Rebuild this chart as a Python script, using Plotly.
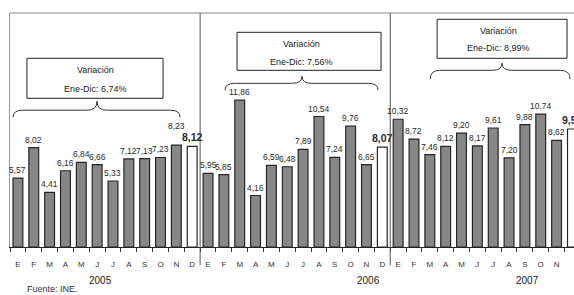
import plotly.graph_objects as go

# ---------------- data ----------------
months = ["E", "F", "M", "A", "M", "J", "J", "A", "S", "O", "N", "D"]
years = ["2005", "2006", "2007"]
values_2005 = [5.57, 8.02, 4.41, 6.16, 6.84, 6.66, 5.33, 7.12, 7.13, 7.23, 8.23, 8.12]
values_2006 = [5.95, 5.85, 11.86, 4.16, 6.59, 6.48, 7.89, 10.54, 7.24, 9.76, 6.65, 8.07]
values_2007 = [10.32, 8.72, 7.46, 8.12, 9.20, 8.17, 9.61, 7.20, 9.88, 10.74, 8.62, 9.53]
variation_labels = ["Ene-Dic: 6,74%", "Ene-Dic: 7,56%", "Ene-Dic: 8,99%"]
box_title = "Variación"
source_text = "Fuente: INE."

# ---------------- build ----------------
all_values = values_2005 + values_2006 + values_2007
n = len(all_values)
xs = list(range(n))
ticktext = months * 3

GRAY = "#878787"
FONT = "Liberation Sans, Arial, sans-serif"
XMIN, XMAX = -0.5, 35.1
YMAX = 18.9

colors = ["white" if i % 12 == 11 else GRAY for i in range(n)]

fig = go.Figure()
fig.add_trace(go.Bar(
    x=xs, y=all_values,
    marker=dict(color=colors, line=dict(color="#262626", width=1.2)),
    width=0.62, cliponaxis=False,
    hoverinfo="skip",
))

shapes = []
annotations = []

# value labels (style: extra lift for label crowded next to the December one)
label_lift = {10: 12}
for i, v in enumerate(all_values):
    lab = f"{v:.2f}".replace(".", ",")
    dec = (i % 12 == 11)
    annotations.append(dict(
        x=i, y=v, xref="x", yref="y", showarrow=False, yanchor="bottom",
        yshift=label_lift.get(i, 1),
        text=f"<b>{lab}</b>" if dec else lab,
        font=dict(family=FONT, size=10.5 if dec else 8.5, color="#2a2a2a"),
    ))

# panel dividers
for xv in [11.5, 23.5]:
    shapes.append(dict(type="line", xref="x", yref="paper", x0=xv, x1=xv, y0=-0.078, y1=1,
                       line=dict(color="#555", width=1)))
# top frame
shapes.append(dict(type="line", xref="paper", yref="paper", x0=0, x1=1, y0=1, y1=1,
                   line=dict(color="#888", width=1)))

# boxes (x0, x1, y0, y1), text center x, line y's
boxes = [
    (0.57, 9.16, 12.01, 15.24, 4.87, 14.27, 12.74),
    (13.83, 22.92, 14.27, 17.34, 17.87, 16.37, 14.92),
    (26.46, 34.66, 15.24, 18.39, 30.31, 17.42, 16.05),
]
for (bx0, bx1, by0, by1, tx, ty1, ty2), lab in zip(boxes, variation_labels):
    shapes.append(dict(type="rect", xref="x", yref="y", x0=bx0, x1=bx1, y0=by0, y1=by1,
                       line=dict(color="#222", width=1), fillcolor="white"))
    annotations.append(dict(x=tx, y=ty1, xref="x", yref="y", text=box_title, showarrow=False,
                            font=dict(family=FONT, size=9, color="#222")))
    annotations.append(dict(x=tx, y=ty2, xref="x", yref="y", text=lab, showarrow=False,
                            font=dict(family=FONT, size=9, color="#222")))

# braces (left x, right x, tip x, end y, flat y, tip y)
braces = [
    (-0.31, 10.23, 4.99, 10.48, 11.05, 11.77),
    (13.07, 22.73, 17.93, 12.66, 13.22, 13.79),
    (26.02, 34.85, 30.56, 13.55, 14.27, 14.84),
]
r = 0.6
for xa, xb, xt, ye, yf, yt in braces:
    path = (f"M {xa},{ye} Q {xa},{yf} {xa + r},{yf} L {xt - r},{yf} "
            f"Q {xt},{yf} {xt},{yt} Q {xt},{yf} {xt + r},{yf} "
            f"L {xb - r},{yf} Q {xb},{yf} {xb},{ye}")
    shapes.append(dict(type="path", xref="x", yref="y", path=path,
                       line=dict(color="#333", width=1)))

# year labels
for yr, xv in zip(years, [5.24, 22.1, 32.14]):
    annotations.append(dict(x=xv, y=-0.1425, xref="x", yref="paper", text=yr, showarrow=False,
                            yanchor="middle",
                            font=dict(family=FONT, size=10, color="#222")))

annotations.append(dict(x=0.027, y=-0.181, xref="paper", yref="paper", text=source_text,
                        showarrow=False, xanchor="left", yanchor="middle",
                        font=dict(family=FONT, size=9, color="#333")))

fig.update_layout(
    width=574, height=295,
    margin=dict(l=10, r=0, t=13, b=48, autoexpand=False),
    paper_bgcolor="white", plot_bgcolor="white",
    showlegend=False,
    shapes=shapes, annotations=annotations,
    xaxis=dict(
        range=[XMIN, XMAX], tickmode="array", tickvals=xs, ticktext=ticktext,
        ticks="", showgrid=False, zeroline=False, automargin=False,
        showline=True, linecolor="#222", linewidth=1.2,
        tickfont=dict(family=FONT, size=8, color="#333"),
        ticklabelstandoff=9,
        minor=dict(tickmode="linear", tick0=-0.5, dtick=1, ticks="outside", ticklen=4,
                   tickcolor="#333", tickwidth=1, showgrid=False),
    ),
    yaxis=dict(
        range=[0, YMAX], showticklabels=False, ticks="", showgrid=False, zeroline=False,
        automargin=False, showline=True, linecolor="#999", linewidth=1,
    ),
)

# remove the page's default body margin/scrollbars so the figure fills the window exactly
fig.write_html(
    "out.html",
    config={"displayModeBar": False},
    post_script="document.body.style.margin='0';document.body.style.overflow='hidden';"
                "document.documentElement.style.overflow='hidden';",
)
